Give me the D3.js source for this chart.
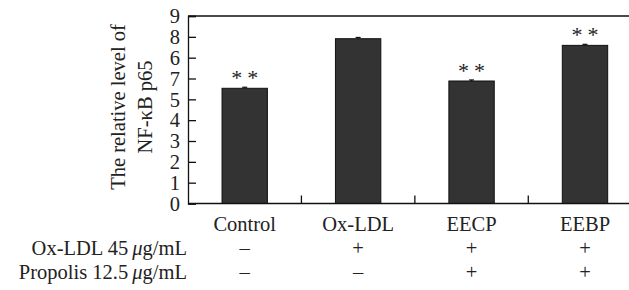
<!DOCTYPE html>
<html>
<head>
<meta charset="utf-8">
<script src="https://cdn.jsdelivr.net/npm/d3@7"></script>
<style>
  html, body { margin: 0; padding: 0; background: #fff; }
  svg { display: block; }
  text { font-family: "Liberation Serif", "DejaVu Serif", serif; fill: #222; }
</style>
</head>
<body>
<svg id="chart" width="629" height="290"></svg>
<script>
// ---- data ----
const categories = ["Control", "Ox-LDL", "EECP", "EEBP"];
const values = [5.53, 7.91, 5.88, 7.59];
const errors = [0.05, 0.06, 0.05, 0.05];
const significance = ["**", "", "**", "**"];
const yTickValues = [0, 1, 2, 3, 4, 5, 6, 7, 8, 9];
const yTickLabels = ["0", "1", "2", "3", "4", "5", "7", "6", "8", "9"]; // as printed in the original
const oxLdlRow = ["\u2013", "+", "+", "+"];
const propolisRow = ["\u2013", "\u2013", "+", "+"];
const yTitleLines = ["The relative level of", "NF-\u03BAB p65"];

// ---- layout ----
const svg = d3.select("#chart");
const plotLeft = 188, plotRight = 641.7, plotTop = 16, plotBottom = 203.5;
const FS = 20.5;

const x = d3.scaleBand().domain(categories).range([plotLeft, plotRight])
  .paddingInner(0.6).paddingOuter(0.3);
const y = d3.scaleLinear().domain([0, 9]).range([plotBottom, plotTop]);

// frame: top line
svg.append("line").attr("x1", plotLeft).attr("x2", 629).attr("y1", y(9)).attr("y2", y(9))
  .attr("stroke", "#111").attr("stroke-width", 1.3);

// bars
svg.append("g").selectAll("rect").data(categories).join("rect")
  .attr("x", d => x(d))
  .attr("width", x.bandwidth())
  .attr("y", (d, i) => y(values[i]))
  .attr("height", (d, i) => y(0) - y(values[i]))
  .attr("fill", "#333333")
  .attr("stroke", "#111")
  .attr("stroke-width", 1);

// error bars
const eg = svg.append("g").attr("stroke", "#111").attr("stroke-width", 1.2);
categories.forEach((c, i) => {
  const cx = x(c) + x.bandwidth() / 2;
  eg.append("line").attr("x1", cx).attr("x2", cx)
    .attr("y1", y(values[i])).attr("y2", y(values[i] + errors[i]));
  eg.append("line").attr("x1", cx - 2.5).attr("x2", cx + 2.5)
    .attr("y1", y(values[i] + errors[i])).attr("y2", y(values[i] + errors[i]));
});

// significance asterisks
svg.append("g").selectAll("text").data(categories).join("text")
  .attr("x", d => x(d) + x.bandwidth() / 2 + 2.5)
  .attr("y", (d, i) => y(values[i]) - 3)
  .attr("text-anchor", "middle")
  .attr("font-size", 22)
  .attr("fill", "#333")
  .attr("letter-spacing", 5)
  .text((d, i) => significance[i]);

// y axis
const yAxis = d3.axisLeft(y).tickValues(yTickValues)
  .tickFormat((d, i) => yTickLabels[i]).tickSize(-8).tickPadding(8);
const ya = svg.append("g").attr("transform", `translate(${plotLeft},0)`).call(yAxis);
ya.select(".domain").attr("stroke", "#111").attr("stroke-width", 1.3);
ya.selectAll(".tick line").attr("stroke", "#111").attr("stroke-width", 1.3);
ya.selectAll(".tick text").attr("font-size", FS).attr("font-family", "Liberation Serif")
  .attr("fill", "#222").attr("dy", "0.33em");

// x axis (ticks at category boundaries, pointing inward)
const boundaries = categories.slice(1).map(c => x(c) - x.step() * x.paddingInner() / 2);
const xa = svg.append("g");
xa.append("line").attr("x1", plotLeft).attr("x2", 629).attr("y1", y(0)).attr("y2", y(0))
  .attr("stroke", "#111").attr("stroke-width", 1.3);
xa.selectAll(".bt").data(boundaries).join("line").attr("class", "bt")
  .attr("x1", d => d).attr("x2", d => d)
  .attr("y1", y(0)).attr("y2", y(0) - 8)
  .attr("stroke", "#111").attr("stroke-width", 1.3);

// category labels
svg.append("g").selectAll("text").data(categories).join("text")
  .attr("x", d => x(d) + x.bandwidth() / 2)
  .attr("y", 231)
  .attr("text-anchor", "middle").attr("font-size", FS)
  .text(d => d);

// treatment rows
function rowLabel(yPos, pre, post) {
  const t = svg.append("text").attr("x", 187).attr("y", yPos)
    .attr("text-anchor", "end").attr("font-size", FS);
  t.append("tspan").text(pre);
  t.append("tspan").attr("font-style", "italic").text("\u03BC");
  t.append("tspan").text(post);
}
rowLabel(255, "Ox-LDL 45\u2009", "g/mL");
rowLabel(279, "Propolis 12.5\u2009", "g/mL");

[[oxLdlRow, 255], [propolisRow, 279]].forEach(([row, yPos]) => {
  svg.append("g").selectAll("text").data(categories).join("text")
    .attr("x", d => x(d) + x.bandwidth() / 2)
    .attr("y", yPos)
    .attr("text-anchor", "middle").attr("font-size", FS)
    .text((d, i) => row[i]);
});

// y title
const yt = svg.append("text")
  .attr("transform", `translate(0,107) rotate(-90)`)
  .attr("text-anchor", "middle").attr("font-size", FS);
yt.append("tspan").attr("x", 0).attr("y", 125).text(yTitleLines[0]);
yt.append("tspan").attr("x", 0).attr("y", 152).text(yTitleLines[1]);
</script>
</body>
</html>
